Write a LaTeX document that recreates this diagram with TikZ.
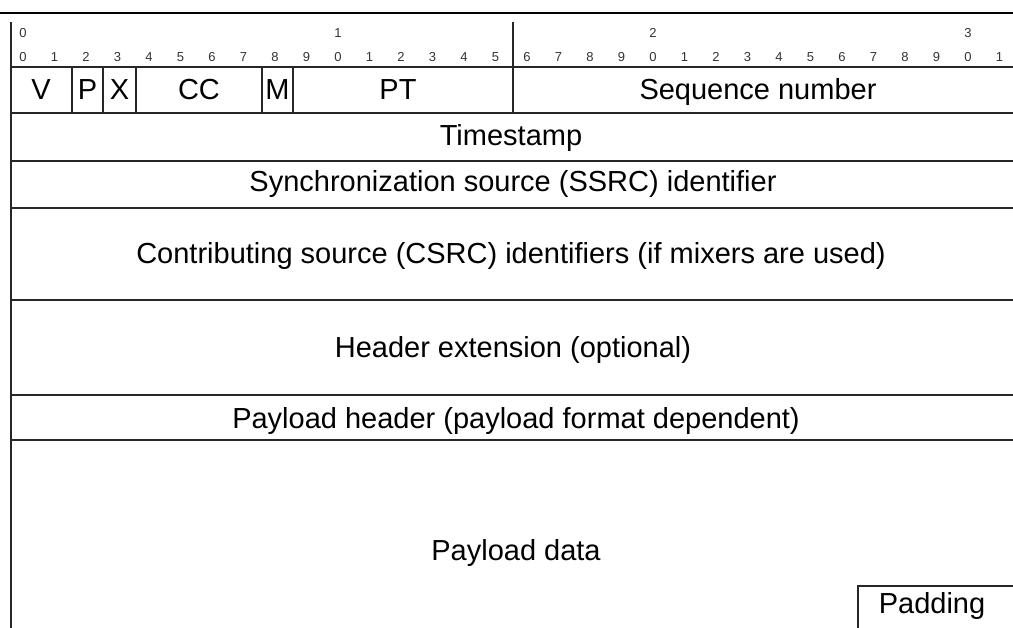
\documentclass[tikz,border=0pt]{standalone}
\usepackage{fontspec}
\setmainfont{Liberation Sans}
\begin{document}
\begin{tikzpicture}[x=1pt,y=-1pt,
  rule/.style={draw=black!85, line width=1.4pt},
  topline/.style={draw=black, line width=2.2pt},
  field/.style={font=\fontsize{29}{32}\selectfont, inner sep=0pt, anchor=base},
  bitnum/.style={font=\fontsize{13}{15}\selectfont, text=black!80, inner sep=0pt, anchor=base}]
\useasboundingbox (0,0) rectangle (1013,628);
% top rule
\draw[topline] (0,13) -- (1013,13);
% left border
\draw[rule] (11,22) -- (11,628);
% bit numbers
\foreach \i in {0,...,31}{
  \pgfmathsetmacro{\bx}{23+31.5*\i}
  \pgfmathtruncatemacro{\bd}{mod(\i,10)}
  \node[bitnum] (bit\i) at (\bx,62) {\bd};
}
\foreach \t in {0,1,2,3}{
  \pgfmathsetmacro{\tx}{23+315*\t}
  \node[bitnum] (ten\t) at (\tx,38) {\t};
}
% horizontal rules
\foreach \y in {67,113,161,208,300,395,440}{
  \draw[rule] (11,\y) -- (1013,\y);
}
% row 1 dividers
\foreach \x in {72,103,136,262,293}{
  \draw[rule] (\x,67) -- (\x,113);
}
\draw[rule] (513,22) -- (513,113);
% padding box
\draw[rule] (858,628) -- (858,586) -- (1013,586);
% field labels
\node[field] (v) at (41,100) {V};
\node[field] (p) at (87.5,100) {P};
\node[field] (xf) at (119.5,100) {X};
\node[field] (cc) at (199,100) {CC};
\node[field] (m) at (277.5,100) {M};
\node[field] (pt) at (398,100) {PT};
\node[field] (seq) at (758,100) {Sequence number};
\node[field] (ts) at (511,146) {Timestamp};
\node[field] (ssrc) at (513,192) {Synchronization source (SSRC) identifier};
\node[field] (csrc) at (511,264) {Contributing source (CSRC) identifiers (if mixers are used)};
\node[field] (hext) at (513,358) {Header extension (optional)};
\node[field] (phdr) at (516,429) {Payload header (payload format dependent)};
\node[field] (pdata) at (516,560) {Payload data};
\node[field] (pad) at (932,613) {Padding};
\end{tikzpicture}
\end{document}
